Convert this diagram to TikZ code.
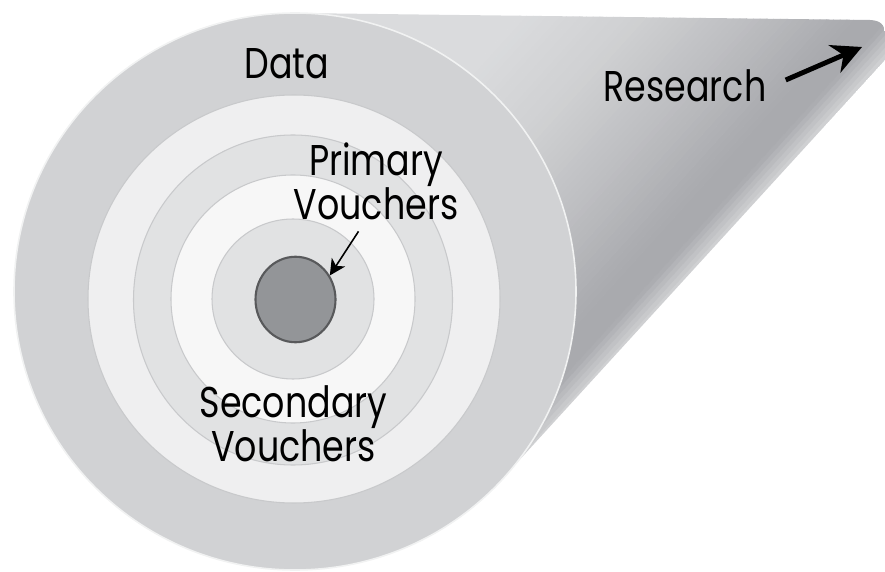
\documentclass[tikz,border=0pt]{standalone}
\usepackage{fontspec}
\setmainfont{Poppins}[FakeStretch=0.81]
\usepackage{xcolor}
\usepackage{tikz}
\usetikzlibrary{arrows.meta}
\usetikzlibrary{shapes.geometric}

\definecolor{edgecol}{HTML}{D2D3D5}
\definecolor{conedark}{HTML}{A9AAAE}
\definecolor{conemid}{HTML}{BBBCBF}
\definecolor{conepale}{HTML}{CFD0D2}
\definecolor{conelight}{HTML}{DADBDD}
\definecolor{disccol}{HTML}{D1D2D4}
\definecolor{ringpale}{HTML}{EFEFF0}
\definecolor{ringgrey}{HTML}{E1E2E3}
\definecolor{ringwhite}{HTML}{F7F7F7}
\definecolor{ringline}{HTML}{C8C9CB}
\definecolor{corecol}{HTML}{939598}
\definecolor{coreline}{HTML}{58595B}

% stripes across the cone: from, to, first colour, last colour, count
\newcommand{\fadeband}[5]{%
	\foreach \k in {1,...,#5}{
		\pgfmathsetmacro{\bandlo}{#1+(#2-#1)*(\k-1)/#5}
		\pgfmathsetmacro{\bandhi}{#1+(#2-#1)*\k/#5+0.01}
		\pgfmathsetmacro{\bandmix}{100*(\k-0.5)/#5}
		\fill[#4!\bandmix!#3] (\bandlo,-2) rectangle (\bandhi,12);
	}}

\begin{document}
\begin{tikzpicture}[
		ring/.style={draw=ringline, line width=0.6pt},
		label/.style={inner sep=0pt, font=\fontsize{24.5}{25}\selectfont, align=center},
		pointer/.style={-{Stealth[length=9pt,width=9pt,inset=2.5pt]}, line width=0.9pt},
		bigpointer/.style={-{Stealth[length=17pt,width=17pt,inset=5.5pt]}, line width=2.8pt}
	]
	\useasboundingbox (0,0) rectangle (17.7,-11.44);
	
	% cone
	\begin{scope}
		\clip (5.9,-0.26) -- (17.4,-0.4) .. controls (17.62,-0.41) and (17.7,-0.5) .. (17.7,-0.7)
			-- (17.7,-1.2) -- (10.04,-9.58) -- (5.9,-5.83) -- cycle;
		\begin{scope}[shift={(17.7,-1.2)}, rotate=137.8]
			\fadeband{0}{0.5}{edgecol}{conedark}{6}
			\fill[conedark] (0.5,-2) rectangle (1.01,12);
			\fadeband{1}{2.4}{conedark}{conemid}{14}
			\fadeband{2.4}{4.2}{conemid}{conepale}{18}
			\fadeband{4.2}{6}{conepale}{conelight}{18}
			\fill[conelight] (6,-2) rectangle (12,12);
		\end{scope}
	\end{scope}
	
	% disc and rings
	\draw[fill=disccol, draw=white!70!disccol, line width=0.9pt] (5.9,-5.83) ellipse [x radius=5.62, y radius=5.57];
	\draw[ring, fill=ringpale] (5.88,-5.98) ellipse [x radius=4.12, y radius=4.08];
	\draw[ring, fill=ringgrey] (5.86,-6.0) ellipse [x radius=3.19, y radius=3.3];
	\draw[ring, fill=ringwhite] (5.86,-5.98) ellipse [x radius=2.44, y radius=2.48];
	\draw[ring, fill=ringgrey] (5.86,-5.98) ellipse [x radius=1.62, y radius=1.6];
	\node[ellipse, draw=coreline, fill=corecol, line width=1.2pt, inner sep=0pt,
		minimum width=1.6cm, minimum height=1.71cm] (core) at (5.91,-5.99) {};
	
	% labels
	\node[label] (data) at (5.74,-1.27) {Data};
	\node[label] (res) at (13.7,-1.72) {Research};
	\node[label] (prim) at (7.52,-3.63) {Primary\\Vouchers};
	\node[label] (sec) at (5.87,-8.47) {Secondary\\Vouchers};
	
	\coordinate (apex) at (17.24,-0.94);
	\draw[pointer] ([xshift=-3.5mm,yshift=-2.2mm]prim.south) -- (core.35);
	\draw[bigpointer] ([xshift=3.8mm,yshift=1.2mm]res.east) -- (apex);
\end{tikzpicture}
\end{document}
